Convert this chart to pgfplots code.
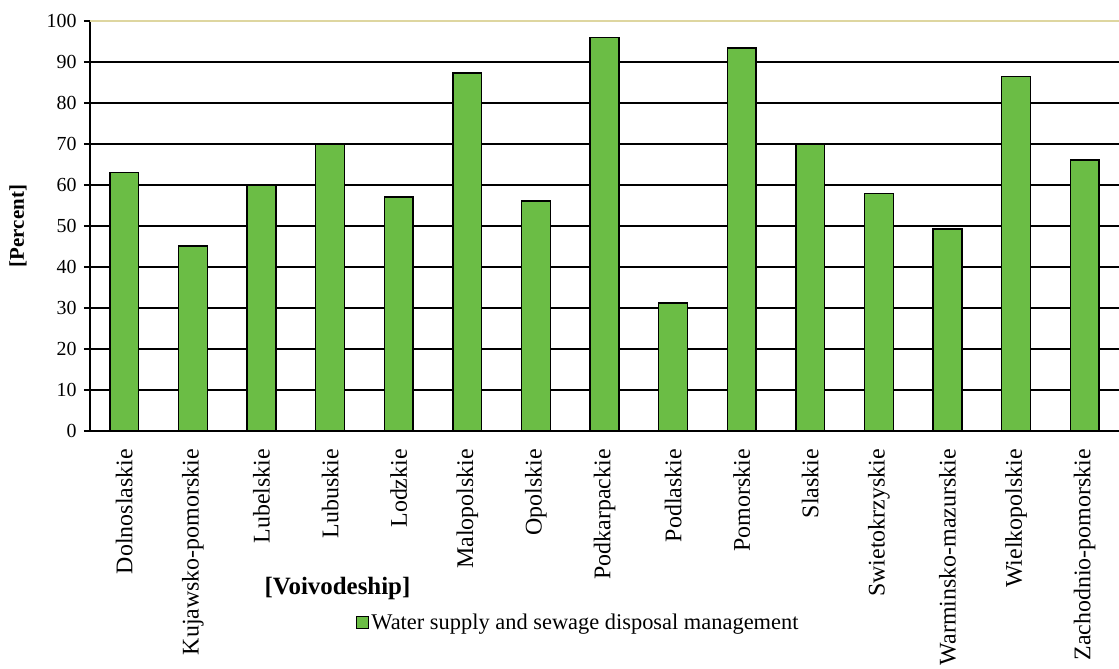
\documentclass[border=0pt]{standalone}
\usepackage{pgfplots}
\pgfplotsset{compat=1.18}
\usepackage{fontspec}
\setmainfont{Liberation Serif}
\definecolor{barg}{RGB}{107,189,69}
\definecolor{topl}{RGB}{222,214,160}
\begin{document}
\begin{tikzpicture}
\begin{axis}[
  at={(90bp,238bp)}, anchor=south west,
  scale only axis, width=1029bp, height=410bp,
  xmin=0, xmax=15, ymin=0, ymax=100,
  axis x line*=bottom, axis y line*=left,
  axis line style={black, line width=1.3bp},
  ytick={0,10,...,90}, extra y ticks={100},
  extra y tick style={grid style={topl, line width=1.3bp}},
  ymajorgrids, grid style={black, line width=1.3bp},
  tick align=outside, major tick length=6bp, minor tick length=6bp,
  tick style={black, line width=1.3bp},
  xtick={0.5,1.5,...,14.5},
  xtick style={draw=none},
  minor xtick={0,1,...,15},
  xticklabels={Dolnoslaskie,Kujawsko-pomorskie,Lubelskie,Lubuskie,Lodzkie,Malopolskie,Opolskie,Podkarpackie,Podlaskie,Pomorskie,Slaskie,Swietokrzyskie,Warminsko-mazurskie,Wielkopolskie,Zachodnio-pomorskie},
  x tick label style={rotate=90, anchor=east, font=\fontsize{24}{28}\selectfont, inner sep=0pt, xshift=-12bp},
  y tick label style={font=\fontsize{20}{24}\selectfont, xshift=-4bp},
  /pgf/number format/assume math mode=true,
  ylabel={\textbf{[Percent]}},
  ylabel style={at={(axis description cs:-0.070,0.5)}, anchor=center, font=\fontsize{21}{25}\selectfont},
  xlabel={\textbf{[Voivodeship]}},
  xlabel style={at={(axis description cs:0.2405,-0.383)}, anchor=center, font=\fontsize{25}{29}\selectfont},
  legend style={at={(axis description cs:0.4747,-0.466)}, anchor=center, draw=none, fill=none, font=\fontsize{22.5}{26}\selectfont, inner sep=0pt},
  ybar, bar width=0.42,
]
\addplot[fill=barg, draw=black, line width=1.3bp,
  legend image code/.code={\draw[fill=barg,draw=black,line width=1bp] (0bp,-6bp) rectangle (12bp,6bp);}] coordinates {
(0.5,63.0) (1.5,45.1) (2.5,60.0) (3.5,70.0) (4.5,57.1) (5.5,87.3) (6.5,56.1) (7.5,95.9)
(8.5,31.2) (9.5,93.4) (10.5,70.0) (11.5,58.0) (12.5,49.3) (13.5,86.4) (14.5,66.1)};
\addlegendentry{Water supply and sewage disposal management}
\end{axis}
\pgfresetboundingbox
\path[use as bounding box] (0,0) rectangle (1119bp,669bp);
\end{tikzpicture}
\end{document}
